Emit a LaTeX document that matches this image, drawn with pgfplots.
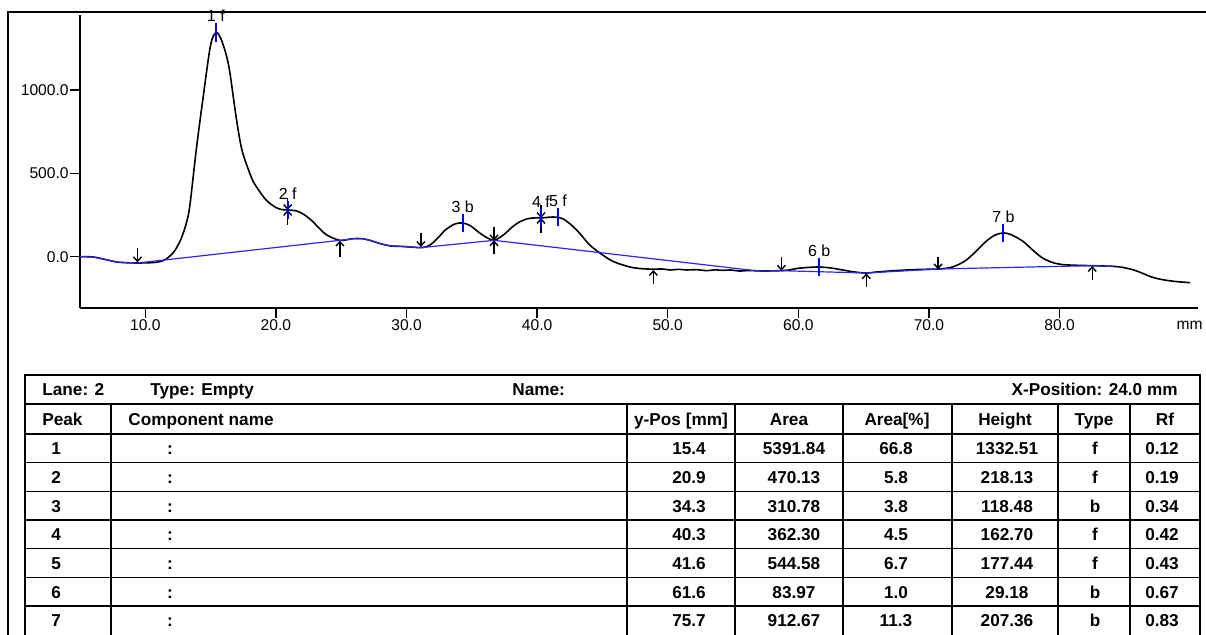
\documentclass[border=0pt]{standalone}
\usepackage{pgfplots}
\pgfplotsset{compat=1.18}
\usepackage{fontspec}
\setmainfont{Liberation Sans}
\usetikzlibrary{arrows.meta}

\pgfplotstableread{
x y
5.0 0
6.0 -2
7.0 -18
7.8 -32
8.5 -36
9.4 -38
10.5 -36
11.1 -30
11.6 -14
12.2 30
12.7 100
13.1 190
13.4 300
13.9 640
14.4 940
15.0 1270
15.45 1345
15.9 1285
16.4 1140
16.95 840
17.4 640
18.1 480
18.5 420
19.25 340
20.0 295
20.5 282
20.9 280
21.6 274
22.2 250
22.8 212
23.8 135
24.9 98
25.9 108
26.6 108
27.2 98
28.0 78
28.8 64
29.5 62
30.3 58
31.1 54
31.6 62
32.0 82
32.5 120
33.0 162
33.7 196
34.3 202
34.9 185
35.6 142
36.2 112
36.7 98
37.2 118
37.6 142
38.1 178
38.6 206
39.2 226
39.7 232
40.4 233
41.2 238
41.7 234
42.0 226
42.5 198
43.0 162
43.5 118
44.0 72
44.8 22
45.8 -28
47.1 -62
48.0 -72
48.9 -75
49.6 -74
50.2 -80
50.8 -76
51.5 -80
52.2 -78
53.0 -84
53.6 -79
54.2 -82
54.8 -80
55.5 -86
56.2 -83
56.8 -85
57.5 -86
58.6 -84
59.3 -80
59.8 -72
60.5 -66
61.6 -62
62.5 -68
63.4 -80
64.3 -92
65.2 -98
66.0 -92
67.0 -86
67.8 -82
68.8 -78
69.7 -76
70.7 -74
71.3 -70
71.8 -62
72.4 -42
72.9 -18
73.5 24
74.1 72
74.7 112
75.2 134
75.75 142
76.3 132
77.2 92
78.0 36
78.7 -8
79.5 -36
80.3 -48
81.4 -52
82.5 -54
83.3 -56
84.1 -58
84.8 -64
85.6 -78
86.3 -98
86.9 -118
87.5 -132
88.2 -142
89.0 -150
90.0 -156
}\curve

\pgfplotstableread{
x y
5.0 0
6.0 -2
7.0 -18
7.8 -32
8.5 -36
9.4 -38
24.9 98
25.9 108
26.6 108
27.2 98
28.0 78
28.8 64
29.5 62
30.3 58
31.1 54
36.7 98
56.8 -85
57.5 -86
58.6 -84
65.2 -98
70.7 -74
82.5 -54
83.3 -56
84.1 -58
}\baseline

\pgfplotstableread{
x y v
9.4 50 -84
20.9 352 -72
31.1 142 -84
36.7 180 -82
40.3 310 -78
58.7 0 -84
70.7 0 -76
20.9 190 90
24.9 0 96
36.7 16 82
40.3 140 92
48.9 -165 85
65.2 -182 82
82.5 -140 84
}\arrows

\pgfplotstableread{
x y v
15.4 1290 110
20.9 225 110
34.3 147 110
40.3 177 110
41.6 181 110
61.6 -117 110
75.7 87 110
}\peakticks

\definecolor{baseblue}{RGB}{40,40,245}
\newcommand{\tf}{\fontsize{8.6}{10}\selectfont\bfseries}

\begin{document}
\begin{tikzpicture}[x=0.5pt,y=-0.5pt]
\path[use as bounding box] (0,0) rectangle (1206,635);
\draw[line width=1.1pt] (8,635) -- (8,12) -- (1206,12);

\begin{axis}[
  at={(40pt,-154pt)}, anchor=south west,
  scale only axis, width=559pt, height=146.5pt,
  xmin=5, xmax=90.6, ymin=-308, ymax=1450,
  axis x line*=bottom, axis y line*=left,
  axis line style={-, line width=0.7pt},
  xtick={10,20,...,80}, xticklabels={10.0,20.0,30.0,40.0,50.0,60.0,70.0,80.0},
  ytick={0,500,1000}, yticklabels={0.0,500.0,1000.0},
  tick align=outside, major tick length=5pt,
  tick style={line width=0.7pt, black},
  ticklabel style={font=\fontsize{7.8}{9}\selectfont, inner sep=0.5pt},
  clip=false,
]
\addplot[black, line width=0.8pt, smooth] table {\curve};
\addplot[baseblue, line width=0.6pt] table {\baseline};
\addplot[black, line width=0.7pt, -{Straight Barb[length=2.2pt,width=4pt]}, quiver={u=0, v=\thisrow{v}}] table {\arrows};
\addplot[blue, line width=1pt, quiver={u=0, v=\thisrow{v}}] table {\peakticks};
\addplot[draw=none, nodes near coords, point meta=explicit symbolic,
  every node near coord/.append style={anchor=south, inner sep=0pt, font=\fontsize{8}{9}\selectfont, black}]
  table[col sep=comma, meta=lab] {
x,y,lab
15.4,1406,1 f
20.9,340,2 f
34.3,262,3 b
40.3,292,4 f
41.6,296,5 f
61.6,-4,6 b
75.7,202,7 b
};
\end{axis}
\node[anchor=east, inner sep=0pt, font=\fontsize{7.8}{9}\selectfont] at (1203,325) {mm};

% table
\begin{scope}[line width=0.6pt]
\draw (25,635) -- (25,375) -- (1200,375) -- (1200,635);
\foreach \y in {404,434,462.7,491.3,520,548.7,577.3,606} \draw (25,\y) -- (1200,\y);
\foreach \x in {111,627,735,843,952,1058,1130} \draw (\x,404) -- (\x,635);
\end{scope}
\begin{scope}[every node/.style={inner sep=0pt, font=\tf}]
\node[anchor=base west] at (42,396) {Lane: 2};
\node[anchor=base west] at (150,396) {Type: Empty};
\node[anchor=base west] at (512,396) {Name:};
\node[anchor=base east] at (1178,396) {X-Position: 24.0 mm};
\node[anchor=base west] at (42,425.5) {Peak};
\node[anchor=base west] at (128,425.5) {Component name};
\node[anchor=base] at (681,425.5) {y-Pos [mm]};
\node[anchor=base] at (789,425.5) {Area};
\node[anchor=base] at (897,425.5) {Area[\%]};
\node[anchor=base] at (1005,425.5) {Height};
\node[anchor=base] at (1094,425.5) {Type};
\node[anchor=base] at (1165,425.5) {Rf};
\foreach \n/\yp/\ar/\ap/\h/\t/\rf [count=\i from 0] in {
  1/15.4/5391.84/66.8/1332.51/f/0.12,
  2/20.9/470.13/5.8/218.13/f/0.19,
  3/34.3/310.78/3.8/118.48/b/0.34,
  4/40.3/362.30/4.5/162.70/f/0.42,
  5/41.6/544.58/6.7/177.44/f/0.43,
  6/61.6/83.97/1.0/29.18/b/0.67,
  7/75.7/912.67/11.3/207.36/b/0.83}{
  \pgfmathsetmacro{\by}{454.8+28.67*\i}
  \node[anchor=base west] at (51,\by) {\n};
  \node[anchor=base] at (170,\by) {:};
  \node[anchor=base] at (689,\by) {\yp};
  \node[anchor=base] at (794,\by) {\ar};
  \node[anchor=base] at (896,\by) {\ap};
  \node[anchor=base] at (1007,\by) {\h};
  \node[anchor=base] at (1095,\by) {\t};
  \node[anchor=base] at (1162,\by) {\rf};
}
\end{scope}
\end{tikzpicture}
\end{document}
